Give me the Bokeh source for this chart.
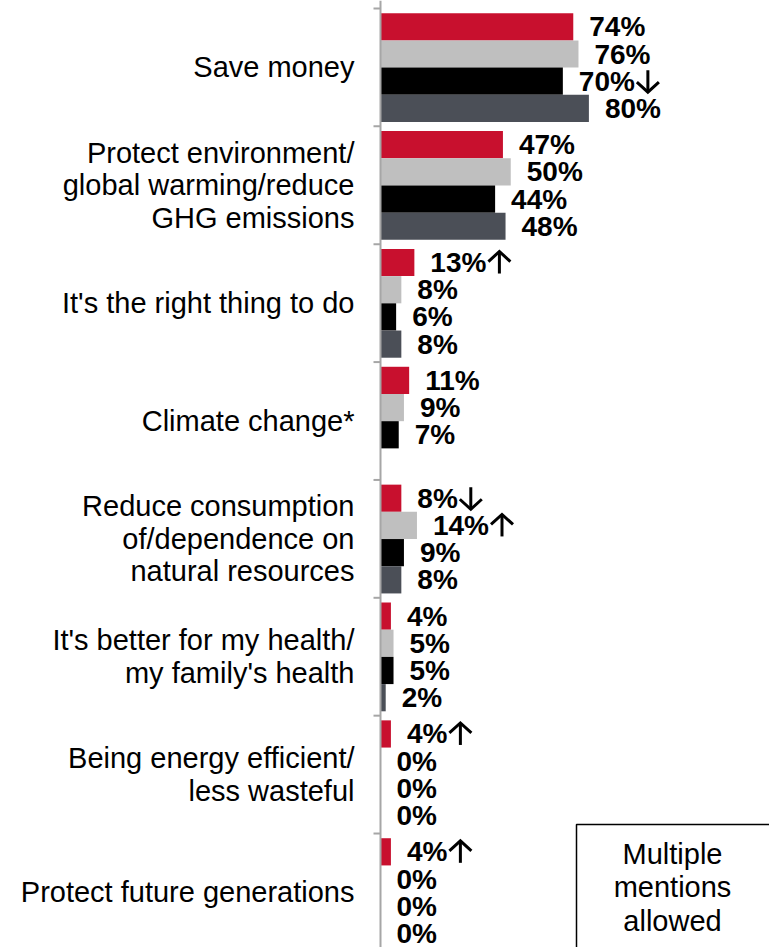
from bokeh.plotting import figure
from bokeh.models import Range1d, Span, ColumnDataSource
from bokeh.core.properties import value
from bokeh.embed import file_html
from bokeh.resources import INLINE

# ---------------- data ----------------
categories = [
    "Save money",
    "Protect environment/\nglobal warming/reduce\nGHG emissions",
    "It's the right thing to do",
    "Climate change*",
    "Reduce consumption\nof/dependence on\nnatural resources",
    "It's better for my health/\nmy family's health",
    "Being energy efficient/\nless wasteful",
    "Protect future generations",
]
series_red = [74, 47, 13, 11, 8, 4, 4, 4]
series_light = [76, 50, 8, 9, 14, 5, 0, 0]
series_black = [70, 44, 6, 7, 9, 5, 0, 0]
series_dark = [80, 48, 8, None, 8, 2, 0, 0]
arrows_red = ["", "", "up", "", "down", "", "up", "up"]
arrows_light = ["", "", "", "", "up", "", "", ""]
arrows_black = ["down", "", "", "", "", "", "", ""]
arrows_dark = ["", "", "", "", "", "", "", ""]
note_text = "Multiple\nmentions\nallowed"

series = [series_red, series_light, series_black, series_dark]
arrows = [arrows_red, arrows_light, arrows_black, arrows_dark]
colors = ["#C8102E", "#BFBFBF", "#000000", "#4B4F57"]

# ---------------- layout ----------------
WIDTH, HEIGHT = 769, 947
PX = 2.605          # pixels per percent
CAT_PX = 117.86     # pixels per category
AXIS_X = 380        # pixel position of the value axis
TOP_Y = 8           # pixel position of first category boundary
x_start = -AXIS_X / PX
x_end = x_start + WIDTH / PX
y_top = -TOP_Y / CAT_PX
y_bottom = y_top + HEIGHT / CAT_PX

p = figure(width=WIDTH, height=HEIGHT, output_backend="svg", toolbar_location=None,
           x_range=Range1d(x_start, x_end), y_range=Range1d(y_bottom, y_top),
           min_border=0, min_border_left=0, min_border_right=0,
           min_border_top=0, min_border_bottom=0)
p.xaxis.visible = False
p.yaxis.visible = False
p.grid.visible = False
p.outline_line_color = None
p.background_fill_color = "white"
p.border_fill_color = "white"

top_gap = 4.7 / CAT_PX
bar_h = 27.2 / CAT_PX
FS = 28  # value label font size (px)
LABEL_OFF = 16
ARW = 11 / PX        # arrow half-width (data units)
ARH = 11 / CAT_PX    # arrow half-height (data units)
ARHEAD = 10 / CAT_PX # arrow head depth


def text_width(s):
    # Liberation Sans Bold advance widths (em)
    w = {"%": 0.889}
    return sum(w.get(c, 0.556) for c in s) * FS


arrow_xs, arrow_ys = [], []
for j, (vals, arr, col) in enumerate(zip(series, arrows, colors)):
    ys, rights, labels = [], [], []
    for i, v in enumerate(vals):
        if v is None:
            continue
        yc = i + top_gap + bar_h * (j + 0.5)
        lab = f"{v}%"
        ys.append(yc)
        rights.append(v)
        labels.append(lab)
        if arr[i]:
            xl = v + (LABEL_OFF + text_width(lab) + 2) / PX
            xc = xl + ARW
            if arr[i] == "up":
                tip, tail, hd = yc - ARH, yc + ARH, ARHEAD
            else:
                tip, tail, hd = yc + ARH, yc - ARH, -ARHEAD
            arrow_xs += [[xc, xc], [xc - ARW, xc, xc + ARW]]
            arrow_ys += [[tip, tail], [tip + hd, tip, tip + hd]]
    src = ColumnDataSource(dict(y=ys, right=rights, label=labels))
    p.hbar(y="y", left=0, right="right", height=bar_h, source=src,
           fill_color=col, line_color=None)
    p.text(x="right", y="y", text="label", source=src, x_offset=LABEL_OFF,
           text_align="left", text_baseline="middle",
           text_font=value("Liberation Sans"), text_font_style="bold",
           text_font_size=f"{FS}px", text_color="black")

p.multi_line(xs=arrow_xs, ys=arrow_ys, line_color="black", line_width=3,
             line_join="miter", line_cap="butt")

# category labels
cat_src = ColumnDataSource(dict(x=[0] * len(categories),
                                y=[i + 0.5 for i in range(len(categories))],
                                t=categories))
p.text(x="x", y="y", text="t", source=cat_src, x_offset=-26,
       text_align="right", text_baseline="middle", text_line_height=1.02,
       text_font=value("Liberation Sans"), text_font_size="29px", text_color="black")

# axis line and ticks
p.add_layout(Span(location=0, dimension="height", line_color="#A6A6A6", line_width=2))
tick_len = 7 / PX
n = len(categories)
p.segment(x0=[-tick_len] * n, x1=[0] * n, y0=list(range(n)), y1=list(range(n)),
          line_color="#A6A6A6", line_width=2)

# note box
box_left = (576 - AXIS_X) / PX
box_top = (824 - TOP_Y) / CAT_PX
p.quad(left=[box_left], right=[x_end + 5], top=[box_top], bottom=[y_bottom + 1],
       fill_color="white", line_color="black", line_width=1.5)
p.text(x=[(672 - AXIS_X) / PX], y=[(887 - TOP_Y) / CAT_PX], text=[note_text],
       text_align="center", text_baseline="middle", text_line_height=1.05,
       text_font=value("Liberation Sans"), text_font_size="29px", text_color="black")

open("out.html", "w").write(file_html(p, INLINE))
